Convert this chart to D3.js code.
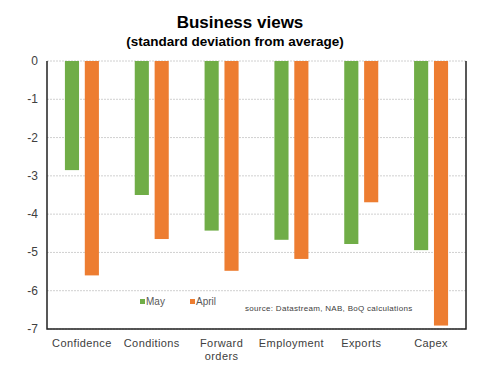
<!DOCTYPE html>
<html>
<head>
<meta charset="utf-8">
<script src="https://cdn.jsdelivr.net/npm/d3@7"></script>
<style>
  body { margin: 0; background: #fff; }
  svg { display: block; font-family: "Liberation Sans", Arial, sans-serif; }
</style>
</head>
<body>
<svg id="chart" width="481" height="374"></svg>
<script>
var categories = ['Confidence', 'Conditions', 'Forward orders', 'Employment', 'Exports', 'Capex'];
var seriesNames = ['May', 'April'];
var mayValues = [-2.85, -3.5, -4.43, -4.67, -4.78, -4.94];
var aprilValues = [-5.6, -4.65, -5.48, -5.17, -3.69, -6.91];
var yTicks = [0, -1, -2, -3, -4, -5, -6, -7];
var colors = ['#70AD47', '#ED7D31'];

var svg = d3.select('#chart');
var m = {left: 47, right: 466, top: 61, bottom: 329};

var x = d3.scaleBand().domain(categories).range([m.left, m.right]);
var x1 = d3.scaleBand().domain(seriesNames).range([0, 34]).paddingInner(0.29);
var y = d3.scaleLinear().domain([0, -7]).range([m.top, m.bottom]);

// title
svg.append('text').attr('x', 240).attr('y', 28).attr('text-anchor', 'middle')
    .attr('font-size', 17).attr('font-weight', 'bold').text('Business views');
svg.append('text').attr('x', 235).attr('y', 46).attr('text-anchor', 'middle')
    .attr('font-size', 13.5).attr('font-weight', 'bold').text('(standard deviation from average)');

// gridlines
svg.append('g').selectAll('line').data(yTicks).enter().append('line')
    .attr('x1', m.left).attr('x2', m.right)
    .attr('y1', function (d) { return y(d); }).attr('y2', function (d) { return y(d); })
    .attr('stroke', '#d0d0d0').attr('stroke-width', 1).attr('stroke-dasharray', '2,1');

// y axis labels
svg.append('g').selectAll('text').data(yTicks).enter().append('text')
    .attr('x', 38).attr('y', function (d) { return y(d) + 4; })
    .attr('text-anchor', 'end').attr('font-size', 12).attr('fill', '#404040')
    .text(function (d) { return d; });

// bars
var rows = categories.map(function (c, i) { return {cat: c, vals: [mayValues[i], aprilValues[i]]}; });
var groups = svg.append('g').selectAll('g').data(rows).enter().append('g')
    .attr('transform', function (d) { return 'translate(' + (x(d.cat) + x.bandwidth() / 2 - 17) + ',0)'; });
groups.selectAll('rect').data(function (d) {
        return d.vals.map(function (v, j) { return {name: seriesNames[j], v: v, j: j}; });
    }).enter().append('rect')
    .attr('x', function (d) { return x1(d.name); })
    .attr('width', x1.bandwidth())
    .attr('y', y(0))
    .attr('height', function (d) { return y(d.v) - y(0); })
    .attr('fill', function (d) { return colors[d.j]; });

// frame: left, bottom, right
svg.append('path')
    .attr('d', 'M' + m.left + ',' + m.top + 'V' + m.bottom + 'H' + m.right + 'V' + m.top)
    .attr('fill', 'none').attr('stroke', '#222').attr('stroke-width', 1.5);

// x labels
svg.append('g').selectAll('text').data(categories).enter().append('text')
    .attr('text-anchor', 'middle').attr('font-size', 11).attr('fill', '#404040')
    .attr('letter-spacing', 0.4)
    .attr('transform', function (d) { return 'translate(' + (x(d) + x.bandwidth() / 2) + ',347)'; })
    .each(function (d) {
        var parts = d === 'Forward orders' ? ['Forward', 'orders'] : [d];
        var t = d3.select(this);
        parts.forEach(function (p, i) {
            t.append('tspan').attr('x', 0).attr('dy', i ? 13 : 0).text(p);
        });
    });

// legend
var legend = svg.append('g');
var lx = [140, 190];
seriesNames.forEach(function (n, i) {
    legend.append('rect').attr('x', lx[i]).attr('y', 299).attr('width', 5).attr('height', 5).attr('fill', colors[i]);
    legend.append('text').attr('x', lx[i] + 6).attr('y', 305).attr('font-size', 10).attr('fill', '#595959').text(n);
});
svg.append('text').attr('x', 245).attr('y', 311).attr('font-size', 8).attr('fill', '#404040')
    .attr('letter-spacing', 0.3)
    .text('source:  Datastream, NAB, BoQ calculations');
</script>
</body>
</html>
